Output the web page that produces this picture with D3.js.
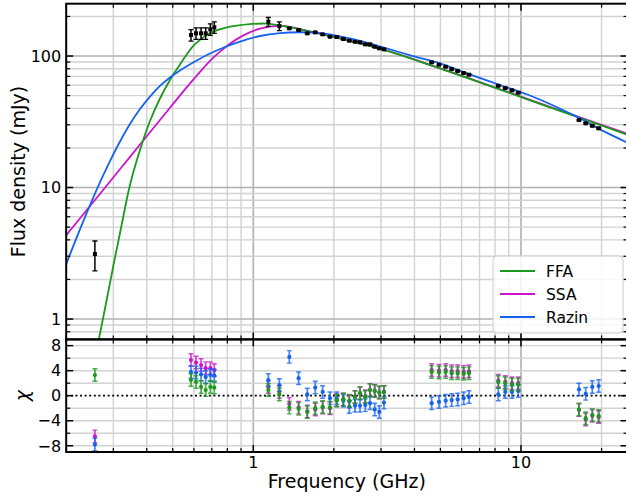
<!DOCTYPE html>
<html>
<head>
<meta charset="utf-8">
<script src="https://cdn.jsdelivr.net/npm/d3@7"></script>
<style>
  body { margin: 0; background: #fff; }
  svg { display: block; font-family: "DejaVu Sans", sans-serif; }
</style>
</head>
<body>
<svg id="chart" width="626" height="500"></svg>
<script>
// ---- observed spectrum (GHz, mJy) ----
const freqGHz = [0.256,
  0.585, 0.611, 0.638, 0.664, 0.691, 0.715,
  1.138, 1.251, 1.363, 1.477, 1.591, 1.704, 1.816, 1.934, 2.049, 2.169, 2.284, 2.399, 2.504, 2.62, 2.729, 2.842, 2.956, 3.077,
  4.638, 4.94, 5.233, 5.509, 5.8, 6.109, 6.393,
  8.228, 8.737, 9.256, 9.77,
  16.47, 17.45, 18.47, 19.51];
const fluxMJy = [3.12,
  144.5, 148.8, 148.8, 148.8, 159.6, 165.3,
  182.3, 169, 162.4, 157.6, 148.8, 151.4, 146.2, 140.2, 139.5, 134.7, 130.7, 128.4, 127.1, 122.7, 122.7, 117.7, 114.4, 112.4,
  89.6, 85.9, 82.9, 79.6, 76.9, 74.3, 72.1,
  59.4, 57.1, 54.9, 52.6,
  32.6, 30.8, 29.5, 28.2];
const fluxErr = [0.8,
  14.5, 15, 15, 15, 16, 16.5,
  14, 13, 2, 1.9, 1.8, 1.8, 1.8, 1.7, 1.7, 1.6, 1.6, 1.5, 1.5, 1.5, 1.5, 1.4, 1.4, 1.4,
  1.1, 1.0, 1.0, 1.0, 0.9, 0.9, 0.9,
  0.7, 0.7, 0.7, 0.6,
  0.4, 0.4, 0.4, 0.4];

// ---- fitted model spectra, sampled (GHz, mJy) ----
const ffaFreq = [0.2496, 0.2636, 0.2818, 0.2999, 0.3205, 0.3462, 0.3773, 0.4112, 0.4481, 0.4884, 0.5322, 0.5653,
  0.597, 0.6323, 0.6715, 0.709, 0.7843, 0.867, 0.972, 1.106, 1.336, 1.587, 2.02, 2.44, 3.051, 3.532, 4.691,
  6.284, 8.35, 12.83, 19.73, 25.0];
const ffaFlux = [0.395, 0.668, 1.323, 2.529, 4.92, 10.45, 19.29, 32.04, 47.52, 65.69, 86.16, 103.6,
  119.5, 132.8, 144.9, 153.3, 163.9, 170.3, 174.8, 176.6, 167.3, 155.5, 139.0, 126.6, 111.9, 102.1, 83.95,
  68.29, 55.62, 40.73, 29.88, 25.17];

const ssaFreq = [0.2, 0.2676, 0.3462, 0.4481, 0.5557, 0.6323, 0.7011, 0.7773, 0.8619, 0.9554, 1.059, 1.154,
  1.258, 1.371, 1.494, 2.02, 2.44, 3.051, 3.532, 4.691, 6.284, 8.35, 12.83, 19.73, 25.0];
const ssaFlux = [4.337, 8.973, 17.12, 32.61, 55.83, 75.84, 95.21, 114.4, 133.3, 149.3, 161.6, 167.3,
  169.7, 166.4, 159.9, 139.2, 126.9, 112.1, 102.3, 84.1, 68.5, 55.9, 41.09, 30.24, 25.61];

const razinFreq = [0.2, 0.2253, 0.2455, 0.2676, 0.2915, 0.3177, 0.3462, 0.3773, 0.4112, 0.4481, 0.4884, 0.5322,
  0.6056, 0.6892, 0.784, 0.8919, 1.059, 1.258, 1.494, 1.775, 2.108, 2.504, 3.051, 3.951, 4.982, 6.284,
  8.35, 11.09, 16.61, 19.73, 25.0];
const razinFlux = [2.62, 4.83, 7.36, 11.01, 15.9, 22.4, 30.4, 39.5, 49.2, 59.2, 68.6, 77.6,
  90.8, 104.5, 117.1, 128.9, 142.0, 149.6, 151.7, 149.6, 141.2, 130.5, 116.5, 100, 88.0, 73.9,
  60.2, 49.0, 33.6, 27.7, 21.95];

// ---- normalised residuals per model ----
const chiFFA = [3.3,
  2.5, 2.2, 1.4, 0.9, 1.4, 1.3,
  0.9, 0.2, -1.9, -2.1, -2.6, -2.0, -1.8, -1.9, -0.8, -0.6, -0.8, -0.2, 0.4, -0.2, 0.9, 0.75, 0.5, 0.6,
  3.8, 3.7, 3.8, 3.6, 3.6, 3.5, 3.6,
  2.2, 2.0, 1.8, 1.8,
  -2.2, -3.6, -3.1, -3.25];
const chiSSA = [-6.5,
  5.7, 5.3, 4.9, 4.4, 4.4, 4.1,
  1.4, 0.6, -1.3, -1.9, -2.5, -2.2, -1.9, -2.0, -0.7, -0.6, -0.9, -0.2, 0.4, -0.1, 0.9, 0.8, 0.5, 0.6,
  4.1, 4.0, 4.1, 3.9, 3.9, 3.8, 3.9,
  2.4, 2.2, 2.0, 2.0,
  -2.3, -3.8, -3.2, -3.4];
const chiRazin = [-7.8,
  3.8, 3.7, 3.4, 3.0, 3.3, 3.2,
  2.5, 1.7, 6.2, 2.8, 0.2, 1.3, 0.6, -0.4, -0.4, -0.8, -1.8, -1.6, -1.6, -1.5, -1.2, -2.2, -2.6, -1.1,
  -1.2, -1.0, -0.8, -0.7, -0.6, -0.4, -0.2,
  0.2, 0.6, 0.6, 0.75,
  1.0, 0.3, 1.4, 1.55];

const modelNames = ["FFA", "SSA", "Razin"];
const modelColors = ["#1a9a1a", "#cc14cc", "#1463f0"];

// ---- tick values ----
const xMajor = [1, 10];
const xMinor = [0.2, 0.3, 0.4, 0.5, 0.6, 0.7, 0.8, 0.9, 2, 3, 4, 5, 6, 7, 8, 9, 20];
const yMajor = [1, 10, 100];
const yMinor = [0.7, 0.8, 0.9, 2, 3, 4, 5, 6, 7, 8, 9, 20, 30, 40, 50, 60, 70, 80, 90, 200];
const chiMajor = [-8, -4, 0, 4, 8];
const chiMinor = [-6, -2, 2, 6];

// ---- layout ----
const svg = d3.select("#chart");
const left = 66.2, right = 627.5;
const topY = 3.7, midY = 339.4, botY = 452;

const x = d3.scaleLog().domain([0.2, 25]).range([left, right]);
const y = d3.scaleLog().domain([0.7, 250]).range([midY, topY]);
const yc = d3.scaleLinear().domain([-9, 9]).range([botY, midY]);

const defs = svg.append("defs");
defs.append("clipPath").attr("id", "clipTop").append("rect")
  .attr("x", left).attr("y", topY).attr("width", right - left).attr("height", midY - topY);
defs.append("clipPath").attr("id", "clipBot").append("rect")
  .attr("x", left).attr("y", midY).attr("width", right - left).attr("height", botY - midY);

const majorGrid = { stroke: "#b0b0b0", w: 1.6 };
const minorGrid = { stroke: "#d2d2d2", w: 1.4 };

function vGrid(g, y0, y1) {
  xMinor.forEach(v => g.append("line").attr("x1", x(v)).attr("x2", x(v)).attr("y1", y0).attr("y2", y1)
    .attr("stroke", minorGrid.stroke).attr("stroke-width", minorGrid.w));
  xMajor.forEach(v => g.append("line").attr("x1", x(v)).attr("x2", x(v)).attr("y1", y0).attr("y2", y1)
    .attr("stroke", majorGrid.stroke).attr("stroke-width", majorGrid.w));
}
function hGrid(g, vals, sc, style) {
  vals.forEach(v => g.append("line").attr("x1", left).attr("x2", right).attr("y1", sc(v)).attr("y2", sc(v))
    .attr("stroke", style.stroke).attr("stroke-width", style.w));
}

// ---- top panel: spectrum and model curves ----
const gTop = svg.append("g");
const gridTop = gTop.append("g");
vGrid(gridTop, topY, midY);
hGrid(gridTop, yMinor, y, minorGrid);
hGrid(gridTop, yMajor, y, majorGrid);

const curves = [[ffaFreq, ffaFlux], [ssaFreq, ssaFlux], [razinFreq, razinFlux]];
const drawOrder = [1, 0, 2]; // SSA underneath FFA where they overlap
const line = d3.line().x(d => x(d[0])).y(d => y(d[1])).curve(d3.curveCatmullRom.alpha(0.5));
const curveG = gTop.append("g").attr("clip-path", "url(#clipTop)");
drawOrder.forEach(i => {
  const c = curves[i];
  const pts = c[0].map((f, k) => [f, c[1][k]]);
  curveG.append("path").datum(pts).attr("d", line)
    .attr("fill", "none").attr("stroke", modelColors[i]).attr("stroke-width", 1.8);
});

const dataG = gTop.append("g").attr("clip-path", "url(#clipTop)");
freqGHz.forEach((f, i) => {
  const cx = x(f), lo = y(fluxMJy[i] - fluxErr[i]), hi = y(fluxMJy[i] + fluxErr[i]);
  dataG.append("line").attr("x1", cx).attr("x2", cx).attr("y1", lo).attr("y2", hi)
    .attr("stroke", "#000").attr("stroke-width", 1.5);
  [lo, hi].forEach(yy => dataG.append("line").attr("x1", cx - 2.5).attr("x2", cx + 2.5)
    .attr("y1", yy).attr("y2", yy).attr("stroke", "#000").attr("stroke-width", 1.3));
  dataG.append("rect").attr("x", cx - 2).attr("y", y(fluxMJy[i]) - 2)
    .attr("width", 4).attr("height", 4).attr("fill", "#000");
});

// ---- residual panel ----
const gBot = svg.append("g");
const gridBot = gBot.append("g");
vGrid(gridBot, midY, botY);
hGrid(gridBot, chiMinor.concat(chiMajor.filter(v => v !== 0)), yc, minorGrid);
gBot.append("line").attr("x1", left).attr("x2", right).attr("y1", yc(0)).attr("y2", yc(0))
  .attr("stroke", "#000").attr("stroke-width", 1.8).attr("stroke-dasharray", "2,2.6");

const chiSets = [[chiSSA, 1], [chiRazin, 2], [chiFFA, 0]];
const resG = gBot.append("g").attr("clip-path", "url(#clipBot)");
chiSets.forEach(([vals, ci]) => {
  const col = modelColors[ci];
  vals.forEach((v, i) => {
    const cx = x(freqGHz[i]);
    const lo = yc(v - 1), hi = yc(v + 1);
    resG.append("line").attr("x1", cx).attr("x2", cx).attr("y1", lo).attr("y2", hi)
      .attr("stroke", col).attr("stroke-width", 1.8).attr("stroke-opacity", 0.75);
    [lo, hi].forEach(yy => resG.append("line").attr("x1", cx - 2.5).attr("x2", cx + 2.5)
      .attr("y1", yy).attr("y2", yy).attr("stroke", col).attr("stroke-width", 1.4).attr("stroke-opacity", 0.75));
    resG.append("circle").attr("cx", cx).attr("cy", yc(v)).attr("r", 2.1).attr("fill", col);
  });
});

// ---- ticks (inward, all four sides) ----
const tickG = svg.append("g").attr("stroke", "#000");
function xTicks(yEdge, dir) {
  xMajor.forEach(v => tickG.append("line").attr("x1", x(v)).attr("x2", x(v))
    .attr("y1", yEdge).attr("y2", yEdge + dir * 7).attr("stroke-width", 1.5));
  xMinor.forEach(v => tickG.append("line").attr("x1", x(v)).attr("x2", x(v))
    .attr("y1", yEdge).attr("y2", yEdge + dir * 4).attr("stroke-width", 1.2));
}
xTicks(topY, 1); xTicks(midY, -1); xTicks(midY, 1); xTicks(botY, -1);
function yTicks(vals, sc, len, w) {
  vals.forEach(v => {
    tickG.append("line").attr("x1", left).attr("x2", left + len).attr("y1", sc(v)).attr("y2", sc(v)).attr("stroke-width", w);
    tickG.append("line").attr("x1", right).attr("x2", right - len).attr("y1", sc(v)).attr("y2", sc(v)).attr("stroke-width", w);
  });
}
yTicks(yMajor, y, 7, 1.5); yTicks(yMinor.filter(v => v > 0.7), y, 4, 1.2);
yTicks(chiMajor, yc, 7, 1.5); yTicks(chiMinor, yc, 4, 1.2);

// ---- frames ----
[[topY, midY], [midY, botY]].forEach(([a, b]) => {
  svg.append("rect").attr("x", left).attr("y", a).attr("width", right - left).attr("height", b - a)
    .attr("fill", "none").attr("stroke", "#000").attr("stroke-width", 2);
});

// ---- tick labels ----
const lab = svg.append("g").attr("font-size", 16).attr("fill", "#000");
yMajor.forEach(v => lab.append("text").attr("x", left - 5).attr("y", y(v)).attr("dy", "0.36em")
  .attr("text-anchor", "end").text(String(v)));
chiMajor.forEach(v => lab.append("text").attr("x", left - 5).attr("y", yc(v)).attr("dy", "0.36em")
  .attr("text-anchor", "end").text(v < 0 ? "\u2212" + Math.abs(v) : String(v)));
xMajor.forEach(v => lab.append("text").attr("x", x(v)).attr("y", botY + 15.5)
  .attr("text-anchor", "middle").text(String(v)));

// ---- axis titles ----
svg.append("text").attr("x", x(Math.sqrt(0.2 * 25))).attr("y", 488).attr("text-anchor", "middle")
  .attr("font-size", 19).text("Frequency (GHz)");
svg.append("text").attr("transform", `translate(25,${(topY + midY) / 2}) rotate(-90)`)
  .attr("text-anchor", "middle").attr("font-size", 19).text("Flux density (mJy)");
svg.append("text").attr("transform", `translate(29,${yc(0)}) rotate(-90)`)
  .attr("text-anchor", "middle").attr("font-size", 19).attr("font-style", "italic").text("\u03c7");

// ---- legend ----
const leg = svg.append("g").attr("transform", "translate(493,256)");
leg.append("rect").attr("width", 130).attr("height", 77).attr("rx", 4)
  .attr("fill", "#fff").attr("fill-opacity", 0.85).attr("stroke", "#cccccc").attr("stroke-width", 1);
modelNames.forEach((n, i) => {
  const ly = 15 + i * 23;
  leg.append("line").attr("x1", 7).attr("x2", 42).attr("y1", ly).attr("y2", ly)
    .attr("stroke", modelColors[i]).attr("stroke-width", 1.8);
  leg.append("text").attr("x", 53).attr("y", ly).attr("dy", "0.36em").attr("font-size", 15.5).text(n);
});
</script>
</body>
</html>
